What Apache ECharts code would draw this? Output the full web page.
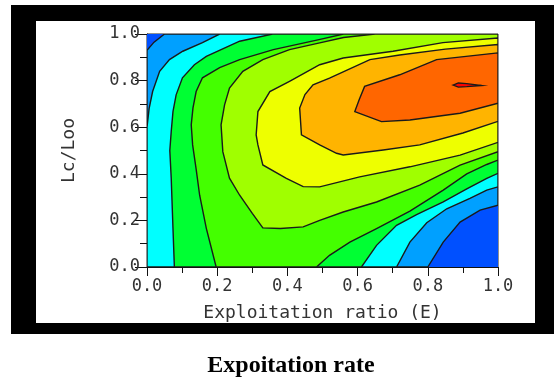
<!DOCTYPE html>
<html>
<head>
<meta charset="utf-8">
<script src="https://cdn.jsdelivr.net/npm/echarts@6/dist/echarts.min.js"></script>
<style>
  html, body { margin: 0; padding: 0; background: #fff; }
  #chart { width: 555px; height: 379px; }
</style>
</head>
<body>
<div id="chart"></div>
<script>
// fill colours, lowest band first
const bandColors = ['#0050ff', '#00a0ff', '#00ffff', '#00ff33', '#44ff00', '#a0ff00', '#eeff00', '#ffb400', '#ff6600', '#ff0000'];

// whole plot (lowest band)
const band0 = [[0, 0], [1, 0], [1, 1], [0, 1]];
// regions at or above each contour level, [E, Lc/Loo]
const band1 = [[0.05, 1], [0.02, 0.965], [0, 0.93], [0, 0], [0.8, 0], [0.844, 0.107], [0.892, 0.193], [0.949, 0.244], [1, 0.265], [1, 1]];
const band2 = [[0.207, 1], [0.158, 0.963], [0.102, 0.926], [0.064, 0.89], [0.036, 0.84], [0.016, 0.753], [0.006, 0.68], [0, 0.6], [0, 0], [0.711, 0], [0.749, 0.107], [0.797, 0.19], [0.854, 0.25], [0.92, 0.295], [0.968, 0.33], [1, 0.344], [1, 1]];
const band3 = [[0.358, 1], [0.264, 0.969], [0.169, 0.904], [0.135, 0.868], [0.101, 0.812], [0.083, 0.739], [0.074, 0.667], [0.069, 0.581], [0.065, 0.5], [0.069, 0.381], [0.074, 0.166], [0.078, 0], [0.611, 0], [0.654, 0.093], [0.711, 0.179], [0.768, 0.225], [0.844, 0.28], [0.911, 0.335], [0.968, 0.38], [1, 0.402], [1, 1]];
const band4 = [[0.56, 1], [0.49, 0.976], [0.36, 0.933], [0.264, 0.89], [0.207, 0.856], [0.158, 0.812], [0.14, 0.753], [0.131, 0.683], [0.126, 0.61], [0.13, 0.524], [0.14, 0.42], [0.15, 0.308], [0.169, 0.166], [0.197, 0], [0.483, 0], [0.52, 0.05], [0.578, 0.107], [0.654, 0.165], [0.749, 0.24], [0.844, 0.33], [0.911, 0.4], [0.968, 0.44], [1, 0.459], [1, 1]];
const band5 = [[0.65, 1], [0.56, 0.985], [0.492, 0.962], [0.406, 0.933], [0.33, 0.89], [0.273, 0.84], [0.235, 0.768], [0.221, 0.696], [0.211, 0.61], [0.216, 0.495], [0.235, 0.381], [0.264, 0.308], [0.3, 0.23], [0.33, 0.168], [0.38, 0.165], [0.445, 0.172], [0.492, 0.2], [0.559, 0.236], [0.654, 0.279], [0.777, 0.351], [0.892, 0.437], [1, 0.495], [1, 1]];
const band6 = [[1, 0.983], [0.843, 0.963], [0.701, 0.926], [0.559, 0.897], [0.492, 0.868], [0.406, 0.797], [0.35, 0.753], [0.316, 0.667], [0.311, 0.567], [0.316, 0.524], [0.33, 0.438], [0.397, 0.38], [0.445, 0.345], [0.492, 0.344], [0.606, 0.387], [0.749, 0.43], [0.892, 0.48], [1, 0.535]];
const band7 = [[1, 0.955], [0.85, 0.935], [0.72, 0.91], [0.635, 0.89], [0.52, 0.811], [0.473, 0.782], [0.45, 0.74], [0.435, 0.682], [0.44, 0.567], [0.492, 0.524], [0.54, 0.488], [0.559, 0.481], [0.673, 0.502], [0.777, 0.524], [0.9, 0.575], [1, 0.625]];
const band8 = [[1, 0.919], [0.825, 0.89], [0.72, 0.825], [0.62, 0.775], [0.605, 0.72], [0.592, 0.667], [0.668, 0.624], [0.749, 0.631], [0.892, 0.66], [1, 0.703]];
const band9 = [[0.872, 0.781], [0.887, 0.79], [0.911, 0.787], [0.953, 0.779], [0.911, 0.774], [0.887, 0.772]];

const bands = [band0, band1, band2, band3, band4, band5, band6, band7, band8, band9];

const xTicks = [0, 0.2, 0.4, 0.6, 0.8, 1];
const yTicks = [0, 0.2, 0.4, 0.6, 0.8, 1];

const labelFont = '"DejaVu Sans Mono", monospace';

function bandSeries(points, color, i) {
  return {
    type: 'custom',
    coordinateSystem: 'cartesian2d',
    data: points,
    encode: { x: 0, y: 1 },
    silent: true,
    clip: true,
    z: 2 + i,
    renderItem: (params, api) => {
      if (params.dataIndex !== 0) return null;
      return {
        type: 'polygon',
        shape: { points: points.map((p) => api.coord(p)) },
        style: { fill: color, stroke: i === 0 ? null : '#1a1a1a', lineWidth: 1.4 },
      };
    },
  };
}

const chart = echarts.init(document.getElementById('chart'), null, { renderer: 'canvas' });

chart.setOption({
  backgroundColor: '#fff',
  animation: false,
  graphic: [
    { type: 'rect', z: -100, shape: { x: 11, y: 5, width: 543, height: 329 }, style: { fill: '#000' } },
    { type: 'rect', z: -99, shape: { x: 36, y: 21, width: 499, height: 302 }, style: { fill: '#fff' } },
    {
      type: 'text', z: 10, x: 291, y: 366,
      style: { text: 'Expoitation rate', textAlign: 'center', textVerticalAlign: 'middle', font: 'bold 24px "Liberation Serif", serif', fill: '#000' },
    },
  ],
  grid: { left: 147, top: 34, width: 351, height: 233, show: true, borderColor: '#222', borderWidth: 1, backgroundColor: 'transparent' },
  xAxis: {
    type: 'value',
    min: 0,
    max: 1,
    interval: 0.2,
    name: 'Exploitation ratio (E)',
    nameLocation: 'middle',
    nameGap: 37,
    nameTextStyle: { fontFamily: labelFont, fontSize: 18, color: '#333' },
    axisLine: { show: true, lineStyle: { color: '#111', width: 1 } },
    axisTick: { show: true, inside: false, length: 9, lineStyle: { color: '#111' }, customValues: xTicks },
    minorTick: { show: true, splitNumber: 2, length: 6, lineStyle: { color: '#111' } },
    splitLine: { show: false },
    axisLabel: { fontFamily: labelFont, fontSize: 17, color: '#333', margin: 11, customValues: xTicks, formatter: (v) => v.toFixed(1) },
  },
  yAxis: {
    type: 'value',
    min: 0,
    max: 1,
    interval: 0.2,
    name: 'Lc/Loo',
    nameLocation: 'middle',
    nameGap: 69,
    nameRotate: 90,
    nameTextStyle: { fontFamily: labelFont, fontSize: 18, color: '#333' },
    axisLine: { show: true, lineStyle: { color: '#111', width: 1 } },
    axisTick: { show: true, inside: false, length: 12, lineStyle: { color: '#111' }, customValues: yTicks },
    minorTick: { show: true, splitNumber: 2, length: 7, lineStyle: { color: '#111' } },
    splitLine: { show: false },
    axisLabel: { fontFamily: labelFont, fontSize: 17, color: '#333', margin: 7, customValues: yTicks, formatter: (v) => v.toFixed(1) },
  },
  series: bands.map((b, i) => bandSeries(b, bandColors[i], i)),
});
</script>
</body>
</html>
